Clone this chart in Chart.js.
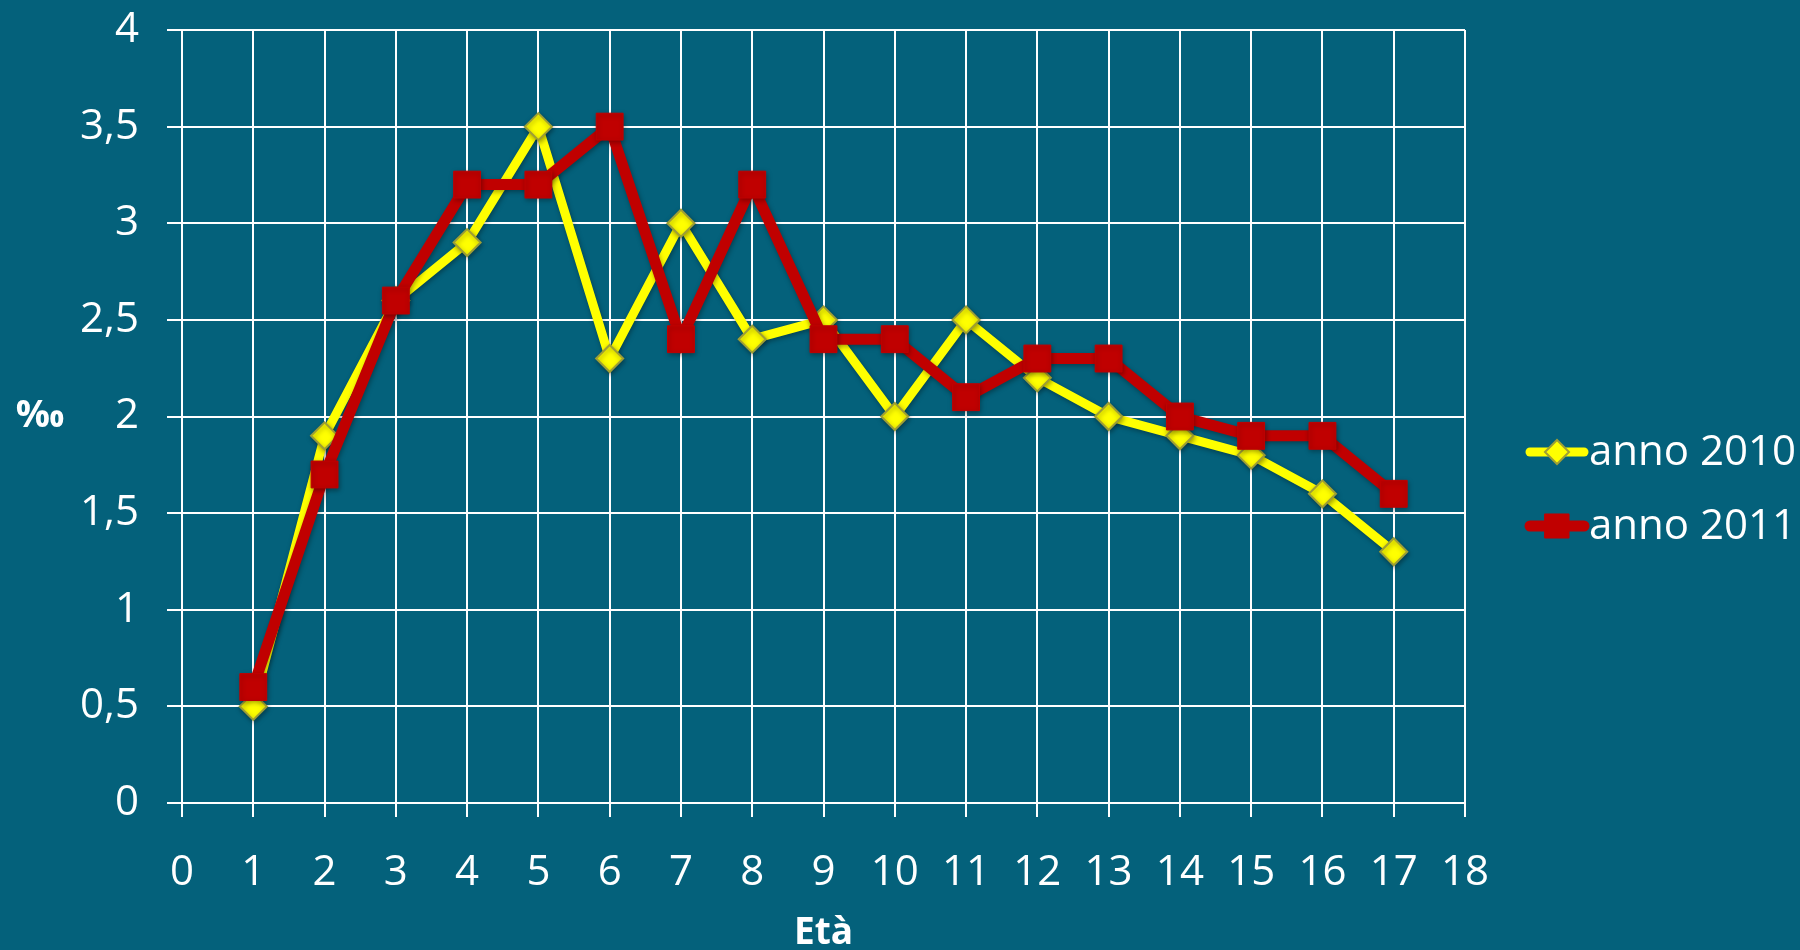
<!DOCTYPE html>
<html>
<head>
<meta charset="utf-8">
<script src="https://cdn.jsdelivr.net/npm/chart.js@4.4.0/dist/chart.umd.min.js"></script>
<style>
  html, body { margin: 0; padding: 0; background: #04617B; }
  #wrap { width: 1800px; height: 950px; }
</style>
</head>
<body>
<div id="wrap"><canvas id="etaChart" width="1800" height="950"></canvas></div>
<script>
// data
const eta = [1, 2, 3, 4, 5, 6, 7, 8, 9, 10, 11, 12, 13, 14, 15, 16, 17];
const anno2010 = [0.5, 1.9, 2.6, 2.9, 3.5, 2.3, 3.0, 2.4, 2.5, 2.0, 2.5, 2.2, 2.0, 1.9, 1.8, 1.6, 1.3];
const anno2011 = [0.6, 1.7, 2.6, 3.2, 3.2, 3.5, 2.4, 3.2, 2.4, 2.4, 2.1, 2.3, 2.3, 2.0, 1.9, 1.9, 1.6];
const seriesNames = ['anno 2010', 'anno 2011'];

const YELLOW = '#FFFF00';
const RED = '#C00000';
const FONT = '"Open Sans", sans-serif';

const toPoints = vals => vals.map((v, i) => ({ x: eta[i], y: v }));

// shadow under lines and markers
const shadowPlugin = {
  id: 'shadow',
  beforeDatasetsDraw(chart) {
    const ctx = chart.ctx;
    ctx.save();
    ctx.shadowColor = 'rgba(0,0,0,0.35)';
    ctx.shadowBlur = 5;
    ctx.shadowOffsetX = 1;
    ctx.shadowOffsetY = 2;
  },
  afterDatasetsDraw(chart) {
    chart.ctx.restore();
  }
};

// per-mille label and legend on the right
const extrasPlugin = {
  id: 'extras',
  afterDraw(chart) {
    const ctx = chart.ctx;
    const area = chart.chartArea;
    ctx.save();
    ctx.fillStyle = '#ffffff';
    ctx.font = 'bold 38px ' + FONT;
    ctx.textAlign = 'center';
    ctx.textBaseline = 'middle';
    ctx.fillText('‰', 40, (area.top + area.bottom) / 2);

    const rows = [452, 526];
    const legendRadius = [12, 17];
    chart.data.datasets.forEach((ds, i) => {
      const y = rows[i];
      ctx.save();
      ctx.strokeStyle = ds.borderColor;
      ctx.lineWidth = ds.borderWidth;
      ctx.lineCap = 'round';
      ctx.beginPath();
      ctx.moveTo(1530, y);
      ctx.lineTo(1584, y);
      ctx.stroke();
      ctx.fillStyle = ds.pointBackgroundColor;
      ctx.strokeStyle = ds.pointBorderColor;
      ctx.lineWidth = ds.pointBorderWidth;
      Chart.helpers.drawPoint(ctx, { pointStyle: ds.pointStyle, radius: legendRadius[i], borderWidth: ds.pointBorderWidth }, 1557, y);
      ctx.restore();
      ctx.fillStyle = '#ffffff';
      ctx.font = '42px ' + FONT;
      ctx.textAlign = 'left';
      ctx.textBaseline = 'middle';
      ctx.fillText(seriesNames[i], 1589, y + 1);
    });
    ctx.restore();
  }
};

const ctxEta = document.getElementById('etaChart').getContext('2d');
const etaChart = new Chart(ctxEta, {
  type: 'line',
  data: {
    datasets: [{
      label: seriesNames[0],
      data: toPoints(anno2010),
      borderColor: YELLOW,
      borderWidth: 9,
      pointStyle: 'rectRot',
      pointRadius: 13.5,
      pointBackgroundColor: YELLOW,
      pointBorderColor: '#9E9E35',
      pointBorderWidth: 2,
      order: 1
    }, {
      label: seriesNames[1],
      data: toPoints(anno2011),
      borderColor: RED,
      borderWidth: 11,
      pointStyle: 'rect',
      pointRadius: 19,
      pointBackgroundColor: RED,
      pointBorderColor: RED,
      pointBorderWidth: 1,
      order: 0
    }]
  },
  options: {
    responsive: false,
    animation: false,
    layout: { padding: { top: 30, right: 335, left: 0, bottom: 0 } },
    plugins: {
      legend: { display: false },
      tooltip: { enabled: false }
    },
    scales: {
      x: {
        type: 'linear',
        min: 0,
        max: 18,
        ticks: { stepSize: 1, color: '#ffffff', font: { family: FONT, size: 42 }, padding: 31 },
        grid: { color: '#ffffff', lineWidth: 2, tickLength: 14 },
        border: { color: '#ffffff', width: 2 },
        title: { display: true, text: 'Età', color: '#ffffff', font: { family: FONT, size: 37, weight: 'bold' }, padding: { top: 0, bottom: -6 } },
        afterFit: scale => { scale.height = 147; scale.paddingLeft = 0; scale.paddingRight = 0; }
      },
      y: {
        min: 0,
        max: 4,
        ticks: {
          stepSize: 0.5,
          color: '#ffffff',
          font: { family: FONT, size: 42 },
          padding: 28,
          callback: value => String(value).replace('.', ',')
        },
        grid: { color: '#ffffff', lineWidth: 2, tickLength: 15 },
        border: { color: '#ffffff', width: 2 },
        afterFit: scale => { scale.width = 182; scale.paddingTop = 0; scale.paddingBottom = 0; }
      }
    }
  },
  plugins: [shadowPlugin, extrasPlugin]
});
</script>
</body>
</html>
